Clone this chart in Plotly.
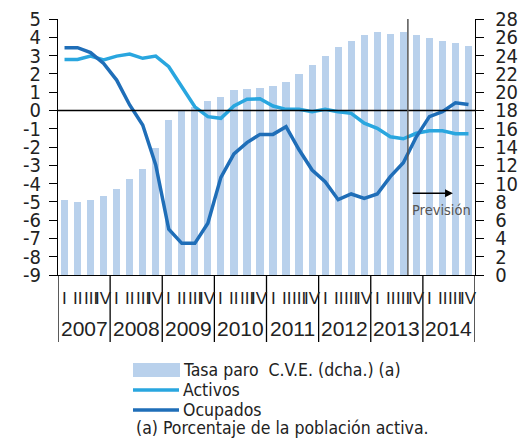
import plotly.graph_objects as go

# Quarterly series, 2007 Q1 - 2014 Q4
years = ["2007", "2008", "2009", "2010", "2011", "2012", "2013", "2014"]
quarters = ["I", "II", "III", "IV"]

# Unemployment rate, seasonally & calendar adjusted (right axis, %)
tasa_paro = [8.2, 8.0, 8.2, 8.6, 9.4, 10.5, 11.6, 13.9,
             16.95, 17.9, 18.4, 19.0, 19.5, 20.2, 20.3, 20.5,
             20.7, 21.1, 22.0, 23.0, 23.9, 24.9, 25.6, 26.2,
             26.6, 26.4, 26.6, 26.2, 25.9, 25.6, 25.4, 25.1]

# Year-on-year change (left axis, %)
activos = [2.79, 2.79, 2.97, 2.76, 2.97, 3.08, 2.85, 2.97,
           2.39, 1.33, 0.2, -0.34, -0.43, 0.24, 0.61, 0.64,
           0.24, 0.06, 0.06, -0.07, 0.06, -0.07, -0.16, -0.7,
           -0.98, -1.44, -1.55, -1.25, -1.11, -1.11, -1.27, -1.27]

ocupados = [3.43, 3.43, 3.16, 2.57, 1.66, 0.3, -0.8, -2.98,
            -6.5, -7.27, -7.27, -6.17, -3.66, -2.38, -1.76, -1.31,
            -1.31, -0.89, -2.15, -3.26, -3.9, -4.88, -4.57, -4.81,
            -4.57, -3.62, -2.86, -1.44, -0.34, -0.07, 0.42, 0.33]

left_ticks = list(range(-9, 6))
left_ticktext = [str(v) for v in left_ticks]          # plain hyphen for negatives
right_ticks = list(range(0, 29, 2))
forecast_start = 26.35   # boundary where the forecast period begins

x = list(range(len(tasa_paro)))

NARROW = "DejaVu Sans Condensed"
REGULAR = "Liberation Sans"
TXT = "#222222"
BAR_COLOR = "#b9d1ec"
ACT_COLOR = "#29a6df"
OCU_COLOR = "#1f6eb8"

W, H = 520, 439
ML, MR, MT, MB = 58, 45, 19, 164
PW, PH = W - ML - MR, H - MT - MB


def px(xp):
    """Horizontal page pixel -> paper fraction."""
    return (xp - ML) / PW


def py(yp):
    """Vertical page pixel -> paper fraction."""
    return (H - MB - yp) / PH


fig = go.Figure()
# bars on the base (right-hand) axis so the lines on the overlay axis sit on top
fig.add_trace(go.Bar(x=x, y=tasa_paro, yaxis="y", marker_color=BAR_COLOR,
                     marker_line_width=0, width=0.55, showlegend=False))
fig.add_trace(go.Scatter(x=x, y=activos, mode="lines", yaxis="y2",
                         line=dict(color=ACT_COLOR, width=3.5), showlegend=False))
fig.add_trace(go.Scatter(x=x, y=ocupados, mode="lines", yaxis="y2",
                         line=dict(color=OCU_COLOR, width=3.5), showlegend=False))

shapes = []
annotations = []

# zero line of the left axis
shapes.append(dict(type="line", xref="paper", yref="y2", x0=0, x1=1, y0=0, y1=0,
                   line=dict(color="black", width=1.5), layer="above"))
# forecast divider
shapes.append(dict(type="line", xref="x", yref="paper", x0=forecast_start, x1=forecast_start,
                   y0=0, y1=1, line=dict(color="#555555", width=1.5), layer="above"))
annotations.append(dict(x=29.8, y=-4.53, xref="x", yref="y2", ax=26.6, ay=-4.53,
                        axref="x", ayref="y2", text="", showarrow=True,
                        arrowhead=2, arrowsize=1.2, arrowwidth=1.3, arrowcolor="black"))
annotations.append(dict(x=26.5, y=-5.45, xref="x", yref="y2", text="Previsión",
                        showarrow=False, xanchor="left", yanchor="middle",
                        font=dict(family=NARROW, size=14.5, color="#555555")))

# year separators and category labels under the axis
for k in range(len(years) + 1):
    xb = 4 * k - 0.5
    shapes.append(dict(type="line", xref="x", yref="paper", x0=xb, x1=xb,
                       y0=0, y1=py(342), line=dict(color="black", width=1.3)))
for k, yr in enumerate(years):
    annotations.append(dict(x=4 * k + 1.5, y=py(328), xref="x", yref="paper",
                            text=yr, showarrow=False, xanchor="center", yanchor="middle",
                            font=dict(family=REGULAR, size=21, color=TXT)))
    for q, ql in enumerate(quarters):
        annotations.append(dict(x=4 * k + q, y=py(298), xref="x", yref="paper",
                                text=ql, showarrow=False, xanchor="center", yanchor="middle",
                                font=dict(family=REGULAR, size=17, color=TXT)))

# legend
shapes.append(dict(type="rect", xref="paper", yref="paper", x0=px(133), x1=px(180),
                   y0=py(363), y1=py(377), fillcolor=BAR_COLOR, line=dict(width=0)))
shapes.append(dict(type="line", xref="paper", yref="paper", x0=px(133), x1=px(179),
                   y0=py(390), y1=py(390), line=dict(color=ACT_COLOR, width=3.5)))
shapes.append(dict(type="line", xref="paper", yref="paper", x0=px(133), x1=px(179),
                   y0=py(410), y1=py(410), line=dict(color=OCU_COLOR, width=3.5)))
for txt, yp in [("Tasa paro  C.V.E. (dcha.) (a)", 370), ("Activos", 390), ("Ocupados", 410)]:
    annotations.append(dict(x=px(181), y=py(yp), xref="paper", yref="paper", text=txt,
                            showarrow=False, xanchor="left", yanchor="middle",
                            font=dict(family=NARROW, size=17.5, color=TXT)))
annotations.append(dict(x=px(134), y=py(428), xref="paper", yref="paper",
                        text="(a) Porcentaje de la población activa.", showarrow=False,
                        xanchor="left", yanchor="middle",
                        font=dict(family=NARROW, size=17.5, color=TXT)))

axis_common = dict(ticks="outside", ticklen=8, tickcolor="black", tickwidth=1.3,
                   showline=True, linecolor="black", linewidth=1.3,
                   showgrid=False, zeroline=False, automargin=False,
                   tickfont=dict(family=NARROW, size=20, color=TXT))

fig.update_layout(
    width=W, height=H,
    margin=dict(l=ML, r=MR, t=MT, b=MB, pad=0, autoexpand=False),
    paper_bgcolor="white", plot_bgcolor="white",
    showlegend=False,
    bargap=0,
    xaxis=dict(range=[-0.5, len(x) - 0.5], showticklabels=False, ticks="",
               showgrid=False, zeroline=False, showline=True, linecolor="black",
               linewidth=1.3, automargin=False),
    yaxis=dict(range=[0, 28], tickvals=right_ticks, side="right",
               ticklabelstandoff=7, **axis_common),
    yaxis2=dict(range=[-9, 5], tickvals=left_ticks, ticktext=left_ticktext,
                overlaying="y", side="left", ticklabelstandoff=4, **axis_common),
    shapes=shapes,
    annotations=annotations,
)

fig.write_html("out.html")
